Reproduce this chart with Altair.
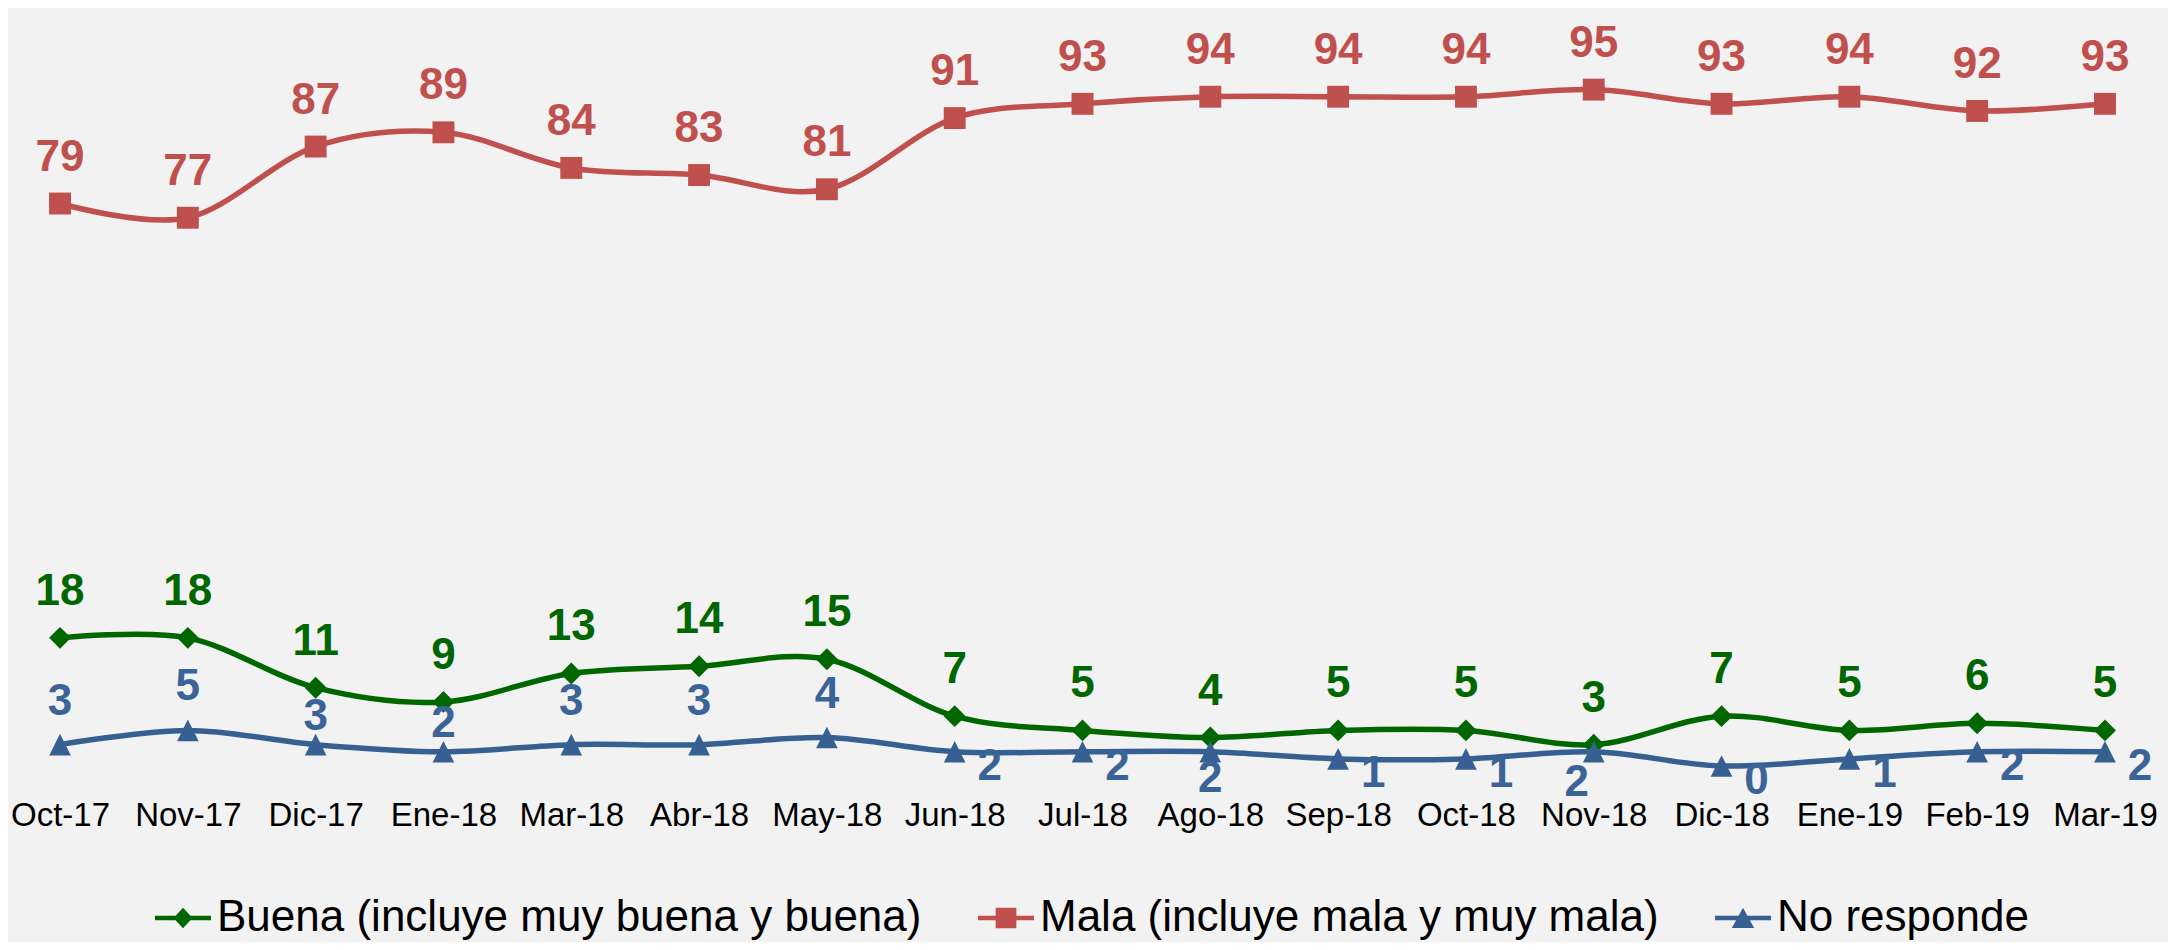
import altair as alt
import pandas as pd

# ---- data ----
months = ["Oct-17", "Nov-17", "Dic-17", "Ene-18", "Mar-18", "Abr-18", "May-18",
          "Jun-18", "Jul-18", "Ago-18", "Sep-18", "Oct-18", "Nov-18", "Dic-18",
          "Ene-19", "Feb-19", "Mar-19"]
buena = [18, 18, 11, 9, 13, 14, 15, 7, 5, 4, 5, 5, 3, 7, 5, 6, 5]
mala = [79, 77, 87, 89, 84, 83, 81, 91, 93, 94, 94, 94, 95, 93, 94, 92, 93]
no_responde = [3, 5, 3, 2, 3, 3, 4, 2, 2, 2, 1, 1, 2, 0, 1, 2, 2]
series_names = ["Buena (incluye muy buena y buena)",
                "Mala (incluye mala y muy mala)",
                "No responde"]

# ---- styling ----
colors = ["#006600", "#C0504D", "#376092"]
label_colors = ["#006600", "#C0504D", "#3A6497"]
FONT = "Liberation Sans"
blue_label_place = ["above", "above", "above_low", "above_low", "above", "above", "above",
                    "right", "right", "below", "right", "right", "below_left", "right",
                    "right", "right", "right"]
place_offsets = {"above": (0, -30), "above_low": (0, -15), "right": (35, 28),
                 "below": (0, 40), "below_left": (-17, 44)}

rows = []
for name, vals in zip(series_names, [buena, mala, no_responde]):
    for i, (m, v) in enumerate(zip(months, vals)):
        rows.append({"month": m, "idx": i, "series": name, "value": v,
                     "place": blue_label_place[i] if name == "No responde" else "above"})
df = pd.DataFrame(rows)

x_enc = alt.X("month:N", sort=months,
              scale=alt.Scale(type="point", padding=0.407),
              axis=alt.Axis(title=None, labelAngle=0, labelFontSize=33, labelFont=FONT,
                            labelColor="black", domain=False, ticks=False, tickSize=0,
                            grid=False, labelPadding=59, labelBaseline="alphabetic"))
y_enc = alt.Y("value:Q", scale=alt.Scale(domain=[0, 100], nice=False), axis=None)
cscale = alt.Scale(domain=series_names, range=colors)

marker_shapes = ["diamond", "square", "M0,-1L1,1H-1Z"]
marker_sizes = [480, 480, 470]

legend_paths = [
    "M-1,-0.08H1V0.08H-1Z M0,-0.37L0.34,0L0,0.37L-0.34,0Z",
    "M-1,-0.08H1V0.08H-1Z M-0.37,-0.37H0.37V0.37H-0.37Z",
    "M-1,-0.08H1V0.08H-1Z M0,-0.37L0.4,0.36H-0.4Z",
]

base = alt.Chart(df)
layers = []
for i, name in enumerate(series_names):
    sub = base.transform_filter(alt.datum.series == name)
    layers.append(sub.mark_line(interpolate="cardinal", strokeWidth=5.5,
                                color=colors[i]).encode(x=x_enc, y=y_enc))
    layers.append(sub.mark_point(filled=True, opacity=1, shape=marker_shapes[i],
                                 size=marker_sizes[i], strokeWidth=0,
                                 color=colors[i]).encode(x=x_enc, y=y_enc))

# data labels
for i, name in enumerate(series_names[:2]):
    layers.append(base.transform_filter(alt.datum.series == name).mark_text(
        font=FONT, fontSize=44, fontWeight="bold", baseline="alphabetic", dy=-33,
        color=label_colors[i]).encode(x=x_enc, y=y_enc, text="value:Q"))
for place, (dx, dy) in place_offsets.items():
    layers.append(base.transform_filter(
        (alt.datum.series == series_names[2]) & (alt.datum.place == place)).mark_text(
        font=FONT, fontSize=44, fontWeight="bold", baseline="alphabetic", dx=dx, dy=dy,
        color=label_colors[2]).encode(x=x_enc, y=y_enc, text="value:Q"))

# legend carrier
leg = alt.Legend(title=None, orient="none", legendX=147, legendY=836,
                 direction="horizontal", symbolSize=3136, symbolStrokeWidth=0,
                 symbolOpacity=1, labelFontSize=44, labelFont=FONT, labelColor="black",
                 labelOffset=6, columnPadding=56, labelLimit=2000, padding=0)
layers.append(base.mark_point(filled=True, opacity=0).encode(
    x=x_enc, y=y_enc,
    color=alt.Color("series:N", scale=cscale, legend=leg, sort=series_names),
    shape=alt.Shape("series:N", scale=alt.Scale(domain=series_names, range=legend_paths),
                    legend=leg, sort=series_names)))

chart = alt.layer(*layers).properties(
    width=2149, height=712,
    autosize=alt.AutoSizeParams(type="none"),
    padding={"left": 0, "top": 46, "right": 11, "bottom": 176},
    background="#F2F2F2",
).configure_view(stroke=None)

chart.save("out.html", embed_options={"renderer": "svg", "actions": False})
